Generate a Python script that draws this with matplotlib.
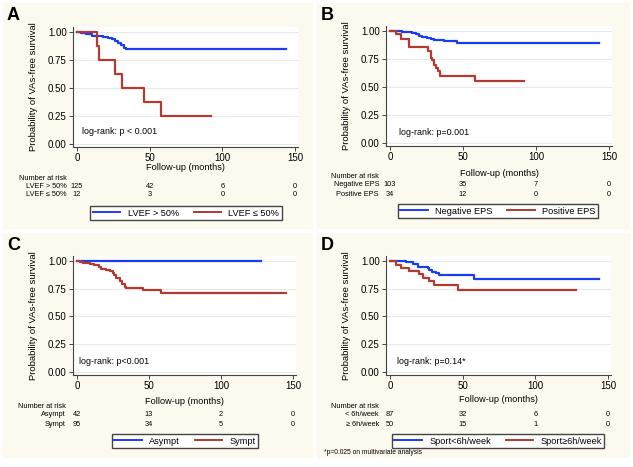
import matplotlib
matplotlib.use("Agg")
import matplotlib.pyplot as plt
import matplotlib.transforms as mtransforms
from matplotlib.patches import Rectangle
from matplotlib.lines import Line2D

plt.rcParams['font.family'] = ['Liberation Sans', 'DejaVu Sans']

W, H = 633, 467
BLUE = "#1c3cf2"
RED = "#b23a30"
CREAM = "#fcf9ee"

xticks = [0, 50, 100, 150]
yticks = [0.0, 0.25, 0.5, 0.75, 1.0]

# panel A: LVEF
a_hi_t = [0, 3, 6, 10, 18, 21, 24, 26, 28, 30, 32, 34, 144]
a_hi_s = [1.0, 0.99, 0.98, 0.965, 0.955, 0.945, 0.935, 0.92, 0.90, 0.88, 0.86, 0.85, 0.85]
a_lo_t = [0, 14, 15, 26, 31, 46, 58, 92]
a_lo_s = [1.0, 0.875, 0.75, 0.625, 0.5, 0.375, 0.25, 0.25]

# panel B: EPS
b_neg_t = [0, 8, 15, 18, 20, 22, 25, 28, 30, 37, 46, 143]
b_neg_s = [1.0, 0.99, 0.98, 0.97, 0.96, 0.95, 0.94, 0.93, 0.92, 0.91, 0.89, 0.89]
b_pos_t = [0, 4, 7.5, 13, 26, 28, 29, 30, 31.5, 33, 34, 58, 92]
b_pos_s = [1.0, 0.97, 0.93, 0.86, 0.82, 0.76, 0.74, 0.70, 0.67, 0.64, 0.60, 0.55, 0.55]

# panel C: symptoms
c_asy_t = [0, 128]
c_asy_s = [1.0, 1.0]
c_sym_t = [0, 2, 4, 9, 12, 15, 17, 20, 23, 25, 26, 27, 30, 31, 33, 34, 46, 58.5, 145]
c_sym_s = [1.0, 0.99, 0.98, 0.97, 0.96, 0.95, 0.93, 0.92, 0.91, 0.89, 0.87, 0.85,
           0.82, 0.79, 0.77, 0.76, 0.74, 0.71, 0.71]

# panel D: sport
d_lo_t = [0, 11, 15.6, 19, 26, 27, 29, 31.7, 34, 58, 144]
d_lo_s = [1.0, 0.99, 0.97, 0.95, 0.94, 0.92, 0.90, 0.89, 0.87, 0.84, 0.84]
d_hi_t = [0, 4, 7.6, 13, 20, 23, 27, 30.5, 46.6, 128]
d_hi_s = [1.0, 0.96, 0.94, 0.91, 0.88, 0.85, 0.82, 0.78, 0.74, 0.74]

panels = [
    dict(letter="A", bg=(3, 3, 313, 229), ax=(73, 27, 298, 147),
         curves=[(a_hi_t, a_hi_s), (a_lo_t, a_lo_s)],
         names=["LVEF > 50%", "LVEF \u2264 50%"],
         rows=["LVEF > 50%", "LVEF \u2264 50%"],
         risk=[[125, 42, 6, 0], [12, 3, 0, 0]],
         logrank="log-rank: p < 0.001", lr_xy=(82, 132),
         xlab_y=167, risk_x=19, risk_lab_x=67, risk_y=(178, 186, 195),
         leg=(186, 213)),
    dict(letter="B", bg=(317, 3, 630, 229), ax=(386, 26, 612, 146),
         curves=[(b_neg_t, b_neg_s), (b_pos_t, b_pos_s)],
         names=["Negative EPS", "Positive EPS"],
         rows=["Negative EPS", "Positive EPS"],
         risk=[[103, 35, 7, 0], [34, 12, 0, 0]],
         logrank="log-rank: p=0.001", lr_xy=(399, 133),
         xlab_y=173, risk_x=331, risk_lab_x=379, risk_y=(177, 185, 194),
         leg=(498, 211)),
    dict(letter="C", bg=(3, 233, 313, 458), ax=(73, 256, 296, 375),
         curves=[(c_asy_t, c_asy_s), (c_sym_t, c_sym_s)],
         names=["Asympt", "Sympt"],
         rows=["Asympt", "Sympt"],
         risk=[[42, 13, 2, 0], [95, 34, 5, 0]],
         logrank="log-rank: p<0.001", lr_xy=(79, 361),
         xlab_y=401, risk_x=18, risk_lab_x=66, risk_y=(406, 415, 424),
         leg=(185, 441)),
    dict(letter="D", bg=(317, 233, 630, 458), ax=(386, 256, 611, 375),
         curves=[(d_lo_t, d_lo_s), (d_hi_t, d_hi_s)],
         names=["Sport<6h/week", "Sport\u22656h/week"],
         rows=["< 6h/week", "\u2265 6h/week"],
         risk=[[87, 32, 6, 0], [50, 15, 1, 0]],
         logrank="log-rank: p=0.14*", lr_xy=(397, 361),
         xlab_y=400, risk_x=331, risk_lab_x=379, risk_y=(406, 415, 424),
         leg=(498, 441)),
]

fig = plt.figure(figsize=(W / 100, H / 100), dpi=100)
fig.patch.set_facecolor("white")


def fx(px):
    return px / W


def fy(py):
    return 1 - py / H


for p in panels:
    x0, y0, x1, y1 = p["bg"]
    fig.patches.append(Rectangle((fx(x0), fy(y1)), fx(x1 - x0), (y1 - y0) / H,
                                 transform=fig.transFigure, facecolor=CREAM,
                                 edgecolor="none", zorder=-10))
    l, t, r, b = p["ax"]
    ax = fig.add_axes([fx(l), fy(b), fx(r - l), (b - t) / H])
    ax.set_facecolor("white")
    ax.set_xlim(-2.75, 152)
    ax.set_ylim(-0.027, 1.045)
    for s in ["top", "right"]:
        ax.spines[s].set_visible(False)
    for s in ["left", "bottom"]:
        ax.spines[s].set_color("#444444")
        ax.spines[s].set_linewidth(0.8)
    ax.set_xticks(xticks)
    ax.set_yticks(yticks)
    ax.set_yticklabels([f"{v:.2f}" for v in yticks])
    ax.tick_params(labelsize=7, length=3, width=0.7, color="#444444", pad=1.5)
    ax.grid(axis="y", color="#e8e8e8", linewidth=0.7)
    ax.set_axisbelow(True)
    ax.set_ylabel("Probability of VAs-free survival", fontsize=6.8, labelpad=7)

    for (t_, s_), c in zip(p["curves"], [BLUE, RED]):
        ax.step(t_, s_, where="post", color=c, linewidth=1.6, zorder=3)

    fig.text(fx(p["lr_xy"][0]), fy(p["lr_xy"][1]), p["logrank"], fontsize=6.4,
             va="center", ha="left")

    fig.text(fx((l + r) / 2), fy(p["xlab_y"]), "Follow-up (months)", fontsize=6.6,
             ha="center", va="center")
    fig.text(fx(p["bg"][0] + 4), fy(p["bg"][1] + 13), p["letter"], fontsize=13,
             fontweight="bold", ha="left", va="center")

    # number at risk table
    blend = mtransforms.blended_transform_factory(ax.transData, fig.transFigure)
    fig.text(fx(p["risk_x"]), fy(p["risk_y"][0]), "Number at risk", fontsize=5.3,
             ha="left", va="center")
    for name, row, yy in zip(p["rows"], p["risk"], p["risk_y"][1:]):
        fig.text(fx(p["risk_lab_x"]), fy(yy), name, fontsize=5.3, ha="right", va="center")
        for xv, n in zip(xticks, row):
            ax.text(xv, fy(yy), str(n), fontsize=5.3, ha="center", va="center",
                    transform=blend, clip_on=False)

    handles = [Line2D([], [], color=BLUE, linewidth=1.4),
               Line2D([], [], color=RED, linewidth=1.4)]
    fig.legend(handles, p["names"], loc="center",
               bbox_to_anchor=(fx(p["leg"][0]), fy(p["leg"][1])),
               ncol=2, fontsize=6.6, frameon=True, fancybox=False,
               edgecolor="#444444", framealpha=1, handlelength=3.0,
               columnspacing=1.6, borderpad=0.3, handletextpad=0.8)

fig.text(fx(324), fy(453), "*p=0.025 on multivariate analysis", fontsize=4.8,
         ha="left", va="center")

fig.savefig("out.png", dpi=100)
